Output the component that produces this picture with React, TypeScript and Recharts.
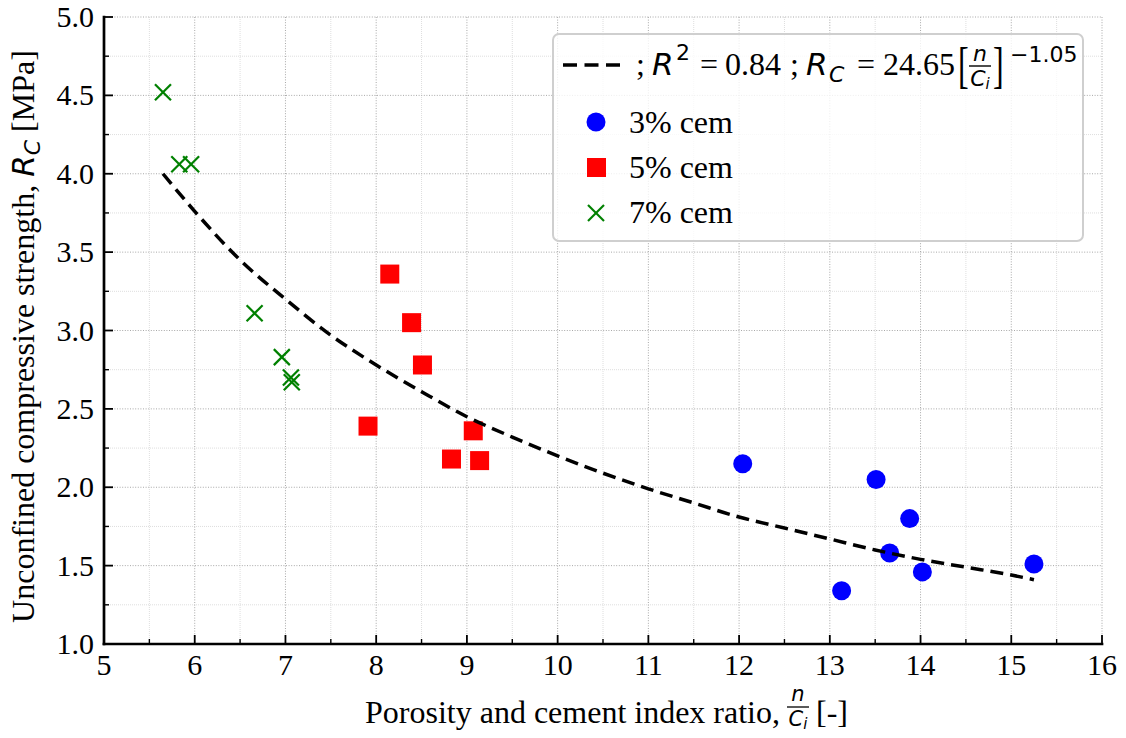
import React from 'react';
import { ScatterChart, Scatter, XAxis, YAxis, CartesianGrid, Legend } from 'recharts';

// ---------- data ----------
const xMajorTicks = [5, 6, 7, 8, 9, 10, 11, 12, 13, 14, 15, 16];
const xMinorTicks = [5.5, 6.5, 7.5, 8.5, 9.5, 10.5, 11.5, 12.5, 13.5, 14.5, 15.5];
const yMajorTicks = [1.0, 1.5, 2.0, 2.5, 3.0, 3.5, 4.0, 4.5, 5.0];
const yMinorTicks = [1.25, 1.75, 2.25, 2.75, 3.25, 3.75, 4.25, 4.75];
const yTickLabels = ['1.0', '1.5', '2.0', '2.5', '3.0', '3.5', '4.0', '4.5', '5.0'];

const cem3X = [12.04, 13.51, 13.88, 13.66, 14.02, 13.13, 15.25];
const cem3Y = [2.15, 2.05, 1.8, 1.58, 1.46, 1.34, 1.51];

const cem5X = [8.15, 8.39, 8.51, 7.91, 9.07, 8.83, 9.14];
const cem5Y = [3.36, 3.05, 2.78, 2.39, 2.36, 2.18, 2.17];

const cem7X = [5.65, 5.83, 5.96, 6.66, 6.96, 7.06, 7.07];
const cem7Y = [4.52, 4.06, 4.06, 3.11, 2.83, 2.7, 2.67];

const fitX = [5.65, 6.0, 6.5, 7.0, 7.5, 8.0, 8.5, 9.0, 9.5, 10.0, 10.5, 11.0, 11.5, 12.0, 12.5, 13.0, 13.5, 14.0, 14.5, 15.0, 15.25];
const fitY = [4.0, 3.76, 3.45, 3.2, 2.97, 2.78, 2.61, 2.45, 2.32, 2.2, 2.09, 1.99, 1.9, 1.81, 1.74, 1.67, 1.6, 1.54, 1.49, 1.44, 1.41];

const zip = (xs: number[], ys: number[]) => xs.map((x, i) => ({ x, y: ys[i] }));
const cem3 = zip(cem3X, cem3Y);
const cem5 = zip(cem5X, cem5Y);
const cem7 = zip(cem7X, cem7Y);
const fit = zip(fitX, fitY);

const xAllTicks = [...xMajorTicks, ...xMinorTicks].sort((a, b) => a - b);
const yAllTicks = [...yMajorTicks, ...yMinorTicks].sort((a, b) => a - b);

// ---------- styles ----------
const SERIF = '"Liberation Serif", "Times New Roman", serif';
const SANS = '"DejaVu Sans", sans-serif';
const MAJOR_LEN = 9;
const MINOR_LEN = 5;
const TICK_FS = 30;
const LABEL_FS = 32;
const frameStyle = { stroke: '#000', strokeWidth: 2.7, strokeLinecap: 'square' as const };

const isMajorX = (v: number) => xMajorTicks.some((t) => Math.abs(t - v) < 1e-6);
const isMajorY = (v: number) => yMajorTicks.some((t) => Math.abs(t - v) < 1e-6);
const yLabelOf = (v: number) => {
  const i = yMajorTicks.findIndex((t) => Math.abs(t - v) < 1e-6);
  return i >= 0 ? yTickLabels[i] : '';
};

const BottomTick = (props: any) => {
  const { x, y, payload } = props;
  const major = isMajorX(payload.value);
  return (
    <g>
      <line x1={x} y1={y} x2={x} y2={y - (major ? MAJOR_LEN : MINOR_LEN)} stroke="#000" strokeWidth={major ? 1.8 : 1.4} />
      {major && (
        <text x={x} y={y + 31} textAnchor="middle" fontFamily={SERIF} fontSize={TICK_FS} fill="#000">
          {String(payload.value)}
        </text>
      )}
    </g>
  );
};

const TopTick = (props: any) => {
  const { x, y, payload } = props;
  const major = isMajorX(payload.value);
  return <line x1={x} y1={y} x2={x} y2={y + (major ? MAJOR_LEN : MINOR_LEN)} stroke="#000" strokeWidth={major ? 1.8 : 1.4} />;
};

const LeftTick = (props: any) => {
  const { x, y, payload } = props;
  const major = isMajorY(payload.value);
  return (
    <g>
      <line x1={x} y1={y} x2={x + (major ? MAJOR_LEN : MINOR_LEN)} y2={y} stroke="#000" strokeWidth={major ? 1.8 : 1.4} />
      {major && (
        <text x={x - 10} y={y + 10} textAnchor="end" fontFamily={SERIF} fontSize={TICK_FS} fill="#000">
          {yLabelOf(payload.value)}
        </text>
      )}
    </g>
  );
};

const RightTick = (props: any) => {
  const { x, y, payload } = props;
  const major = isMajorY(payload.value);
  return <line x1={x} y1={y} x2={x - (major ? MAJOR_LEN : MINOR_LEN)} y2={y} stroke="#000" strokeWidth={major ? 1.8 : 1.4} />;
};

const XLabel = (props: any) => {
  const vb = props.viewBox || { x: 104, y: 644, width: 998, height: 94 };
  const cx = vb.x + vb.width / 2;
  const base = vb.y + 79;
  const fx = cx + 195;
  return (
    <g>
      <text x={cx + 177} y={base} textAnchor="end" fontFamily={SERIF} fontSize={LABEL_FS} fill="#000">
        Porosity and cement index ratio,
      </text>
      <text x={fx} y={base - 22} textAnchor="middle" fontFamily={SANS} fontStyle="italic" fontSize={21} fill="#000">
        n
      </text>
      <line x1={fx - 11} x2={fx + 11} y1={base - 16} y2={base - 16} stroke="#000" strokeWidth={1.3} />
      <text x={fx} y={base + 3} textAnchor="middle" fontFamily={SANS} fontStyle="italic" fontSize={21} fill="#000">
        C<tspan fontSize={15} dy={3}>i</tspan>
      </text>
      <text x={cx + 213} y={base} textAnchor="start" fontFamily={SERIF} fontSize={LABEL_FS} fill="#000">
        [-]
      </text>
    </g>
  );
};

const YLabel = (props: any) => {
  const vb = props.viewBox || { x: 8, y: 17, width: 96, height: 627 };
  const cy = vb.y + vb.height / 2 + 6;
  const bx = vb.x + 26;
  return (
    <text x={bx} y={cy} transform={`rotate(-90, ${bx}, ${cy})`} textAnchor="middle" fontFamily={SERIF} fontSize={LABEL_FS} fill="#000">
      {'Unconfined compressive strength, '}
      <tspan fontFamily={SANS} fontStyle="italic" fontSize={31}>R</tspan>
      <tspan fontFamily={SANS} fontStyle="italic" fontSize={22} dy={6}>C</tspan>
      <tspan dy={-6}>{' [MPa]'}</tspan>
    </text>
  );
};

// ---------- markers ----------
const BLUE = '#0000ff';
const RED = '#ff0000';
const GREEN = '#008000';

const CircleShape = (p: any) => <circle cx={p.cx} cy={p.cy} r={9.5} fill={BLUE} />;
const SquareShape = (p: any) => <rect x={p.cx - 9.5} y={p.cy - 9.5} width={19} height={19} fill={RED} />;
const CrossShape = (p: any) => (
  <g stroke={GREEN} strokeWidth={2.2}>
    <line x1={p.cx - 8} y1={p.cy - 8} x2={p.cx + 8} y2={p.cy + 8} />
    <line x1={p.cx - 8} y1={p.cy + 8} x2={p.cx + 8} y2={p.cy - 8} />
  </g>
);
const EmptyShape = () => <g />;

// ---------- legend ----------
const LegendBox = () => (
  <div
    style={{
      width: 532,
      height: 209,
      boxSizing: 'border-box',
      border: '2px solid #cfcfcf',
      borderRadius: 7,
      background: 'rgba(255,255,255,0.8)',
      position: 'relative',
    }}
  >
    <svg width={532} height={209} style={{ position: 'absolute', left: -2, top: -2, overflow: 'visible' }}>
      <line x1={11} x2={68} y1={32} y2={32} stroke="#000" strokeWidth={3.5} strokeDasharray="14 7.5" />
      <text x={84} y={42} fontFamily={SERIF} fontSize={32} fill="#000">;</text>
      <text x={100} y={42} fontFamily={SANS} fontStyle="italic" fontSize={31} fill="#000">R</text>
      <text x={124} y={27} fontFamily={SANS} fontSize={22} fill="#000">2</text>
      <text x={148} y={42} fontFamily={SERIF} fontSize={32} fill="#000">=</text>
      <text x={173} y={42} fontFamily={SERIF} fontSize={32} fill="#000">0.84</text>
      <text x={238} y={42} fontFamily={SERIF} fontSize={32} fill="#000">;</text>
      <text x={254} y={42} fontFamily={SANS} fontStyle="italic" fontSize={31} fill="#000">R</text>
      <text x={277} y={49} fontFamily={SANS} fontStyle="italic" fontSize={22} fill="#000">C</text>
      <text x={305} y={42} fontFamily={SERIF} fontSize={32} fill="#000">=</text>
      <text x={331} y={42} fontFamily={SERIF} fontSize={32} fill="#000">24.65</text>
      <text transform="translate(406, 49) scale(1, 1.6)" fontFamily={SERIF} fontSize={32} fill="#000">[</text>
      <text x={428} y={28} textAnchor="middle" fontFamily={SANS} fontStyle="italic" fontSize={22} fill="#000">n</text>
      <line x1={417} x2={439} y1={33} y2={33} stroke="#000" strokeWidth={1.4} />
      <text x={428} y={53} textAnchor="middle" fontFamily={SANS} fontStyle="italic" fontSize={22} fill="#000">
        C<tspan fontSize={15} dy={3}>i</tspan>
      </text>
      <text transform="translate(441, 49) scale(1, 1.6)" fontFamily={SERIF} fontSize={32} fill="#000">]</text>
      <text x={458} y={29} fontFamily={SANS} fontSize={22} fill="#000">−1.05</text>

      <circle cx={44} cy={89} r={9.5} fill={BLUE} />
      <text x={77} y={100} fontFamily={SERIF} fontSize={32} fill="#000">3% cem</text>
      <rect x={35} y={125} width={19} height={19} fill={RED} />
      <text x={77} y={145} fontFamily={SERIF} fontSize={32} fill="#000">5% cem</text>
      <g stroke={GREEN} strokeWidth={2.2}>
        <line x1={36} y1={172} x2={52} y2={188} />
        <line x1={36} y1={188} x2={52} y2={172} />
      </g>
      <text x={77} y={190} fontFamily={SERIF} fontSize={32} fill="#000">7% cem</text>
    </svg>
  </div>
);

export default function App() {
  return (
    <div style={{ width: 1126, height: 738, position: 'relative', background: '#fff', marginLeft: -8, marginTop: -8 }}>
      <ScatterChart width={1126} height={738} margin={{ top: 17, right: 24, bottom: 0, left: 8 }}>
        <CartesianGrid horizontalValues={yMinorTicks} verticalValues={xMinorTicks} stroke="#dedede" strokeDasharray="1 1" />
        <CartesianGrid horizontalValues={yMajorTicks} verticalValues={xMajorTicks} stroke="#a8a8a8" strokeDasharray="1 1.6" />
        <XAxis
          xAxisId={0}
          type="number"
          dataKey="x"
          domain={[5, 16]}
          ticks={xAllTicks}
          interval={0}
          tick={BottomTick}
          tickSize={0}
          tickMargin={0}
          tickLine={false}
          axisLine={frameStyle}
          height={94}
          allowDataOverflow
          label={<XLabel />}
        />
        <XAxis
          xAxisId="top"
          orientation="top"
          type="number"
          domain={[5, 16]}
          ticks={xAllTicks}
          interval={0}
          tick={TopTick}
          tickSize={0}
          tickMargin={0}
          tickLine={false}
          axisLine={frameStyle}
          height={0}
          allowDataOverflow
        />
        <YAxis
          yAxisId={0}
          type="number"
          dataKey="y"
          domain={[1, 5]}
          ticks={yAllTicks}
          interval={0}
          tick={LeftTick}
          tickSize={0}
          tickMargin={0}
          tickLine={false}
          axisLine={frameStyle}
          width={96}
          allowDataOverflow
          label={<YLabel />}
        />
        <YAxis
          yAxisId="right"
          orientation="right"
          type="number"
          domain={[1, 5]}
          ticks={yAllTicks}
          interval={0}
          tick={RightTick}
          tickSize={0}
          tickMargin={0}
          tickLine={false}
          axisLine={frameStyle}
          width={0}
          allowDataOverflow
        />
        <Scatter name="3% cem" data={cem3} fill={BLUE} shape={CircleShape} isAnimationActive={false} />
        <Scatter name="5% cem" data={cem5} fill={RED} shape={SquareShape} isAnimationActive={false} />
        <Scatter name="7% cem" data={cem7} fill={GREEN} shape={CrossShape} isAnimationActive={false} />
        <Scatter
          name="fit"
          data={fit}
          fill="#000"
          shape={EmptyShape}
          line={{ stroke: '#000', strokeWidth: 3.5, strokeDasharray: '13 7' }}
          lineJointType="monotoneX"
          isAnimationActive={false}
        />
        <Legend
          layout="vertical"
          align="center"
          verticalAlign="middle"
          content={() => <LegendBox />}
          wrapperStyle={{ left: 552, top: 33, width: 532, height: 209 }}
        />
      </ScatterChart>
    </div>
  );
}
